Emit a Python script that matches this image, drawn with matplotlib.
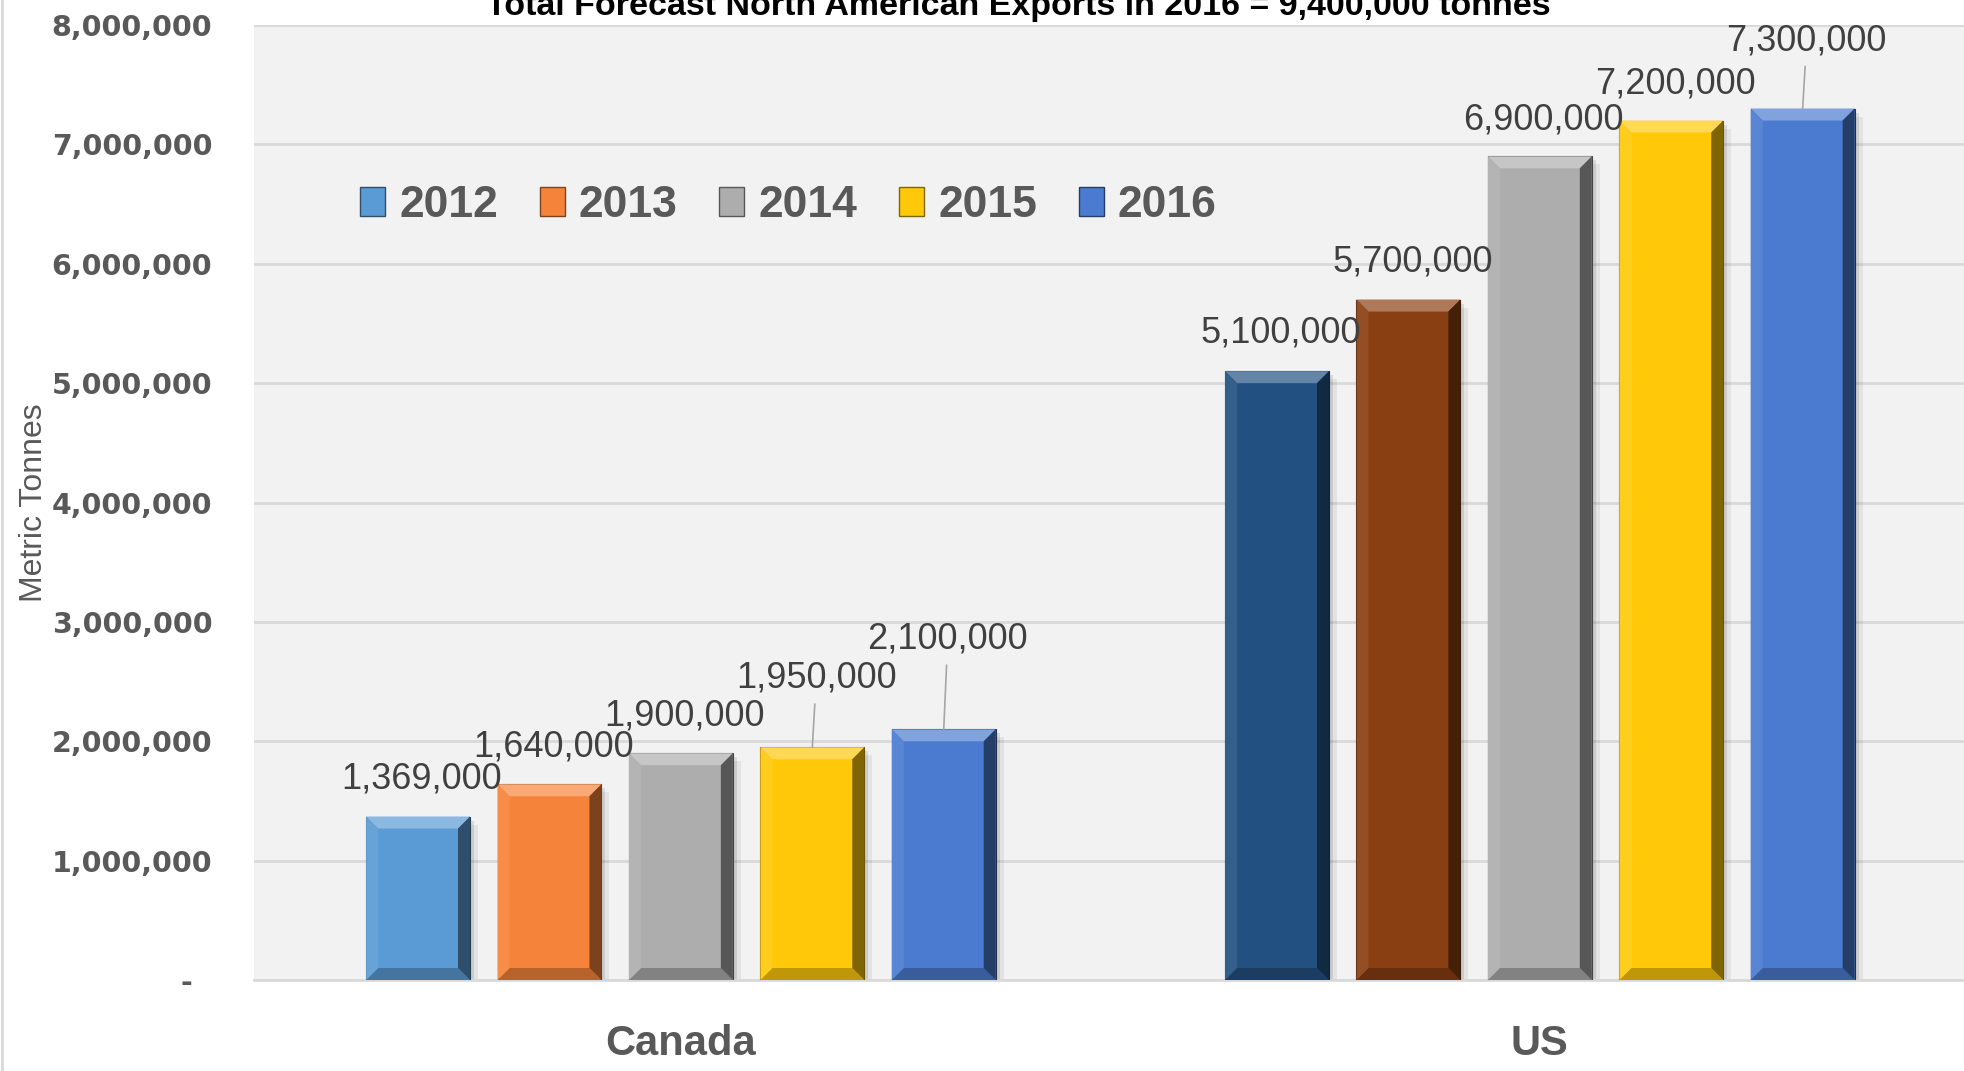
import matplotlib
matplotlib.use("Agg")
import matplotlib.pyplot as plt
import matplotlib.colors as mcolors
from matplotlib.patches import Polygon, Rectangle, Patch
from matplotlib.transforms import IdentityTransform
from matplotlib.lines import Line2D
import numpy as np


regions = ["Canada", "US"]
years = ["2012", "2013", "2014", "2015", "2016"]
canada = [1369000, 1640000, 1900000, 1950000, 2100000]
us = [5100000, 5700000, 6900000, 7200000, 7300000]
canada_colours = ["#5b9bd5", "#f5843a", "#adadad", "#ffc90a", "#4a7bd0"]
us_colours = ["#225181", "#8a3f12", "#adadad", "#ffc90a", "#4a7bd0"]
# how far (pixels) each value label sits above its bar
canada_lift = [38, 37, 37, 69, 90]
us_lift = [38, 38, 36, 37, 68]
yticks = [0, 1000000, 2000000, 3000000, 4000000, 5000000, 6000000, 7000000, 8000000]
title = "Total Forecast North American Exports in 2016 = 9,400,000 tonnes"

TICK_GREY = "#595959"
LABEL_GREY = "#404040"
BAR_W = 0.121
STEP = 0.153
BEVEL = 12


def shade(colour, amount):
    # amount > 0 blends to white, < 0 blends to black
    c = np.array(mcolors.to_rgb(colour))
    if amount > 0:
        return tuple(c + (1 - c) * amount)
    return tuple(c * (1 + amount))


fig = plt.figure(figsize=(19.65, 10.71), dpi=100)
ax = fig.add_axes([254 / 1965, 1 - 980 / 1071, 1 - 254 / 1965, 955 / 1071])
ax.set_facecolor("#f2f2f2")
ax.set_xlim(-0.497, 1.495)
ax.set_ylim(0, 8000000)

x = np.arange(len(regions))
bars = []
for i, yr in enumerate(years):
    vals = [canada[i], us[i]]
    cols = [canada_colours[i], us_colours[i]]
    b = ax.bar(x + (i - 2) * STEP, vals, BAR_W, color=cols, zorder=3,
               edgecolor=[shade(c, -0.6) for c in cols], linewidth=0.8)
    bars.append(b)

ax.set_yticks(yticks)
ax.set_yticklabels(["-  "] + [f"{v:,}" for v in yticks[1:]],
                   fontfamily="DejaVu Sans", fontweight="bold", fontsize=20.5, color=TICK_GREY)
ax.tick_params(axis="y", length=0, pad=30)
ax.set_xticks(x)
ax.set_xticklabels(regions, fontfamily="Liberation Sans", fontweight="bold",
                   fontsize=30, color=TICK_GREY)
ax.tick_params(axis="x", length=0, pad=32)
ax.grid(axis="y", color="#d9d9d9", linewidth=2, zorder=0)
ax.set_axisbelow(True)
for s in ["top", "right", "left"]:
    ax.spines[s].set_visible(False)
ax.spines["bottom"].set_color("#d9d9d9")
ax.spines["bottom"].set_linewidth(2)

ax.set_ylabel("Metric Tonnes", fontfamily="Liberation Sans", fontsize=23, color=TICK_GREY)
ax.yaxis.set_label_coords(-0.12, 0.5)

# bevel and shadow, built from each bar's own rectangle
fig.canvas.draw()
for b in bars:
    for rect in b.patches:
        fc = rect.get_facecolor()
        (x0, y0) = ax.transData.transform((rect.get_x(), 0))
        (x1, y1) = ax.transData.transform((rect.get_x() + rect.get_width(), rect.get_height()))
        for k, a in [(8, 0.06), (4, 0.10)]:
            ax.add_patch(Rectangle((x0 + k, y0), x1 - x0, y1 - y0 - k, transform=IdentityTransform(),
                                   facecolor="black", alpha=a, edgecolor="none", zorder=2))
        d = BEVEL
        faces = [
            ([(x0, y1), (x1, y1), (x1 - d, y1 - d), (x0 + d, y1 - d)], 0.3),
            ([(x0, y0), (x1, y0), (x1 - d, y0 + d), (x0 + d, y0 + d)], -0.25),
            ([(x0, y0), (x0, y1), (x0 + d, y1 - d), (x0 + d, y0 + d)], 0.08),
            ([(x1, y0), (x1, y1), (x1 - d, y1 - d), (x1 - d, y0 + d)], -0.5),
        ]
        for pts, amt in faces:
            ax.add_patch(Polygon(pts, closed=True, transform=IdentityTransform(),
                                 facecolor=shade(fc[:3], amt), edgecolor="none", zorder=4))

# value labels
for i in range(len(years)):
    for j, (vals, lifts) in enumerate([(canada, canada_lift), (us, us_lift)]):
        rect = bars[i].patches[j]
        cx = rect.get_x() + rect.get_width() / 2
        arrow = None
        if lifts[i] > 50:
            arrow = dict(arrowstyle="-", color="#a6a6a6", lw=1.2, shrinkA=4, shrinkB=0)
        ax.annotate(f"{vals[i]:,}", xy=(cx, vals[i]), xytext=(4, lifts[i]),
                    textcoords="offset pixels", ha="center", va="center",
                    fontfamily="Liberation Sans", fontsize=26, color=LABEL_GREY,
                    arrowprops=arrow, zorder=6, annotation_clip=False)

handles = [Patch(facecolor=c, edgecolor=shade(c, -0.5)) for c in canada_colours]
leg = ax.legend(handles, years, loc="center left", bbox_to_anchor=(0.062, 0.811),
                ncol=5, frameon=False, borderpad=0, borderaxespad=0,
                handlelength=0.563, handleheight=0.63, handletextpad=0.315, columnspacing=0.94,
                prop={"family": "Liberation Sans", "weight": "bold", "size": 32})
for t in leg.get_texts():
    t.set_color(TICK_GREY)

fig.text(1018 / 1965, 1 - 15 / 1071, title, ha="center", va="baseline",
         fontfamily="Liberation Sans", fontweight="bold", fontsize=24.5, color="black")
fig.add_artist(Line2D([2 / 1965, 2 / 1965], [0, 1], color="#d9d9d9", linewidth=2))

fig.savefig("out.png", dpi=100)
